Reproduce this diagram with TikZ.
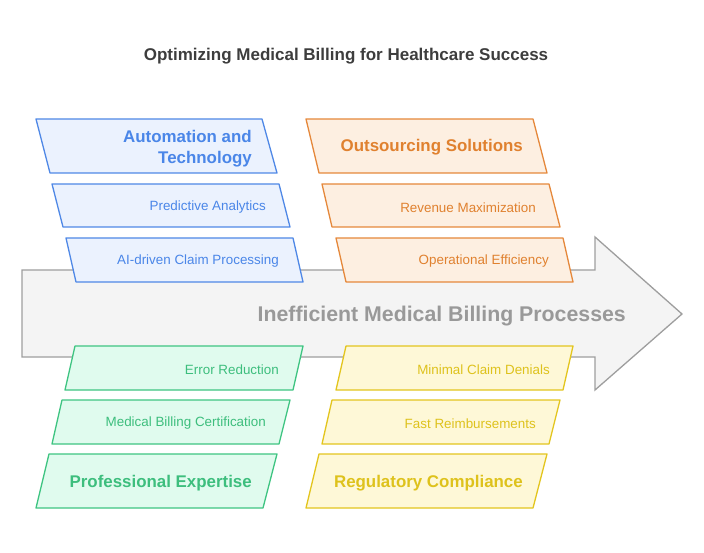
\documentclass[tikz,border=0pt]{standalone}
\usepackage{fontspec}
\setmainfont{Liberation Sans}
\definecolor{bluec}{HTML}{4F88E6}
\definecolor{bluef}{HTML}{EBF2FE}
\definecolor{bluet}{HTML}{4A86E8}
\definecolor{orc}{HTML}{E5883B}
\definecolor{orf}{HTML}{FDEFE1}
\definecolor{ort}{HTML}{E0812F}
\definecolor{grc}{HTML}{3EC481}
\definecolor{grf}{HTML}{E0FBEE}
\definecolor{grt}{HTML}{3DBE7D}
\definecolor{yec}{HTML}{E3C51E}
\definecolor{yef}{HTML}{FEF8D7}
\definecolor{yet}{HTML}{DEC21C}
\definecolor{arc}{HTML}{9E9E9E}
\definecolor{arf}{HTML}{F4F4F4}
\definecolor{art}{HTML}{999999}
\definecolor{tit}{HTML}{3D3D3D}
\tikzset{
  pg/.style={line width=1.3pt, line join=round},
  bluebox/.style={pg, draw=bluec, fill=bluef},
  orbox/.style={pg, draw=orc, fill=orf},
  grbox/.style={pg, draw=grc, fill=grf},
  yebox/.style={pg, draw=yec, fill=yef},
  small/.style={anchor=east, inner sep=0pt, font=\fontsize{13.4}{15}\selectfont},
  big/.style={anchor=east, inner sep=0pt, align=right, font=\fontsize{16.9}{21}\selectfont\bfseries},
}
\begin{document}
\begin{tikzpicture}[x=1pt,y=-1pt]
\useasboundingbox (0,0) rectangle (704,553);
\node[text=tit, font=\fontsize{17}{19}\selectfont\bfseries] (title) at (346,56) {Optimizing Medical Billing for Healthcare Success};
% main arrow
\draw[draw=arc, fill=arf, line width=1.3pt, line join=miter] (22,270) -- (595,270) -- (595,237) -- (682,314) -- (595,390) -- (595,357) -- (22,357) -- cycle;
\node[anchor=east, inner sep=0pt, text=art, font=\fontsize{21.3}{26}\selectfont\bfseries] (main) at (626,316) {Inefficient Medical Billing Processes};
% blue
\draw[bluebox] (36,119) -- (262,119) -- (277,173) -- (50,173) -- cycle;
\draw[bluebox] (52,184) -- (279,184) -- (290,227) -- (63,227) -- cycle;
\draw[bluebox] (66,238) -- (293,238) -- (303,282) -- (76,282) -- cycle;
\node[big, text=bluet] (b1) at (252,148.5) {Automation and\\Technology};
\node[small, text=bluet] (b2) at (266,207.5) {Predictive Analytics};
\node[small, text=bluet] (b3) at (279,261.5) {AI-driven Claim Processing};
% orange
\draw[orbox] (306,119) -- (533,119) -- (547,173) -- (319,173) -- cycle;
\draw[orbox] (322,184) -- (549,184) -- (560,227) -- (332,227) -- cycle;
\draw[orbox] (336,238) -- (563,238) -- (573,282) -- (346,282) -- cycle;
\node[big, text=ort] (o1) at (523,147.5) {Outsourcing Solutions};
\node[small, text=ort] (o2) at (536,207.5) {Revenue Maximization};
\node[small, text=ort] (o3) at (549,261.5) {Operational Efficiency};
% green
\draw[grbox] (75,346) -- (303,346) -- (293,390) -- (65,390) -- cycle;
\draw[grbox] (62,400) -- (290,400) -- (279,444) -- (52,444) -- cycle;
\draw[grbox] (49,454) -- (277,454) -- (263,508) -- (36,508) -- cycle;
\node[small, text=grt] (g1) at (279,369.5) {Error Reduction};
\node[small, text=grt] (g2) at (266,423.5) {Medical Billing Certification};
\node[big, text=grt] (g3) at (252,483) {Professional Expertise};
% yellow
\draw[yebox] (346,346) -- (573,346) -- (563,390) -- (336,390) -- cycle;
\draw[yebox] (332,400) -- (560,400) -- (549,444) -- (322,444) -- cycle;
\draw[yebox] (319,454) -- (547,454) -- (533,508) -- (306,508) -- cycle;
\node[small, text=yet] (y1) at (550,369.5) {Minimal Claim Denials};
\node[small, text=yet] (y2) at (536,423.5) {Fast Reimbursements};
\node[big, text=yet] (y3) at (523,483) {Regulatory Compliance};
\end{tikzpicture}
\end{document}
